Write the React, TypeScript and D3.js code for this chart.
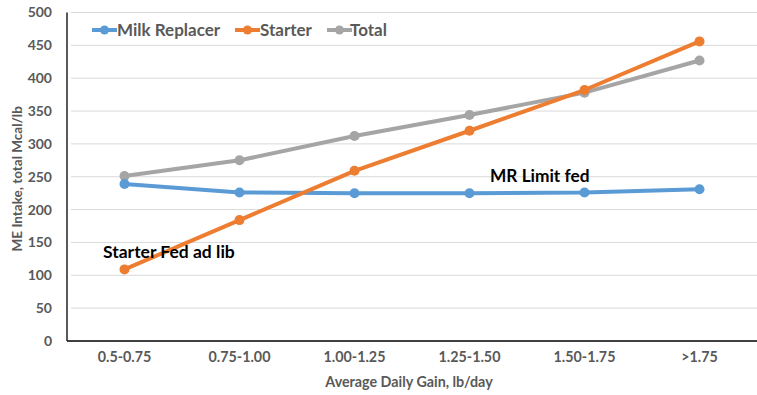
import React from "react";
import * as d3 from "d3";

const categories = ["0.5-0.75", "0.75-1.00", "1.00-1.25", "1.25-1.50", "1.50-1.75", ">1.75"];
const milkReplacer = [239, 226, 225, 225, 226, 231];
const starter = [109, 184, 259, 320, 382, 456];
const total = [251, 275, 312, 344, 378, 427];
const yTicks = [0, 50, 100, 150, 200, 250, 300, 350, 400, 450, 500];
const seriesNames = ["Milk Replacer", "Starter", "Total"];
const seriesColors = ["#5B9BD5", "#ED7D31", "#A5A5A5"];

const W = 757;
const H = 395;
const left = 67;
const right = 757;
const top = 12.5;
const bottom = 341;
const font = "Lato, 'Open Sans', sans-serif";

export default function App() {
  const x = d3.scaleBand<string>().domain(categories).range([left, right]).padding(0);
  const y = d3.scaleLinear().domain([0, 500]).range([bottom, top]);
  const cx = (c: string) => (x(c) ?? 0) + x.bandwidth() / 2;
  const line = d3
    .line<number>()
    .x((_, i) => cx(categories[i]))
    .y((d) => y(d));
  const series = [milkReplacer, starter, total];
  const order = [2, 0, 1];
  const legendX = [92, 235, 327];
  const legendTextX = [117, 260, 350];

  return (
    <svg width={W} height={H} style={{ position: "absolute", left: 0, top: 0, background: "#fff" }}>
      {yTicks.map((t) => (
        <g key={t}>
          {t > 0 && (
            <line x1={left + 4} x2={right} y1={y(t)} y2={y(t)} stroke="#D9D9D9" strokeWidth={1} />
          )}
          <text
            x={52}
            y={y(t)}
            dy="0.35em"
            textAnchor="end"
            fontFamily={font}
            fontWeight="bold"
            fontSize={14}
            fill="#595959"
          >
            {t}
          </text>
        </g>
      ))}
      <line x1={left} x2={left} y1={top} y2={bottom} stroke="#000" strokeWidth={1.3} />
      <line x1={left} x2={right} y1={bottom} y2={bottom} stroke="#000" strokeWidth={1.3} />
      {categories.map((c) => (
        <text
          key={c}
          x={cx(c)}
          y={362}
          textAnchor="middle"
          fontFamily={font}
          fontWeight="bold"
          fontSize={14.3}
          fill="#595959"
        >
          {c}
        </text>
      ))}
      <text
        x={409}
        y={387}
        textAnchor="middle"
        fontFamily={font}
        fontWeight="bold"
        fontSize={14.3}
        fill="#595959"
      >
        Average Daily Gain, lb/day
      </text>
      <text
        transform={`translate(22, ${(top + bottom) / 2 + 2}) rotate(-90)`}
        textAnchor="middle"
        fontFamily={font}
        fontWeight="bold"
        fontSize={13.5}
        fill="#595959"
      >
        ME Intake, total Mcal/lb
      </text>
      {order.map((si) => (
        <g key={si}>
          <path d={line(series[si]) ?? ""} fill="none" stroke={seriesColors[si]} strokeWidth={4} strokeLinejoin="round" />
          {series[si].map((v, i) => (
            <circle key={i} cx={cx(categories[i])} cy={y(v)} r={5} fill={seriesColors[si]} />
          ))}
        </g>
      ))}
      {seriesNames.map((n, i) => (
        <g key={n}>
          <line x1={legendX[i]} x2={legendX[i] + 25} y1={30} y2={30} stroke={seriesColors[i]} strokeWidth={4} />
          <circle cx={legendX[i] + 12.5} cy={30} r={4.5} fill={seriesColors[i]} />
          <text
            x={legendTextX[i]}
            y={30}
            dy="0.36em"
            fontFamily={font}
            fontWeight="bold"
            fontSize={17}
            fill="#595959"
          >
            {n}
          </text>
        </g>
      ))}
      <text x={103} y={258} fontFamily={font} fontWeight="bold" fontSize={17.5} fill="#000">
        Starter Fed ad lib
      </text>
      <text x={490} y={182} fontFamily={font} fontWeight="bold" fontSize={17.3} fill="#000">
        MR Limit fed
      </text>
    </svg>
  );
}
